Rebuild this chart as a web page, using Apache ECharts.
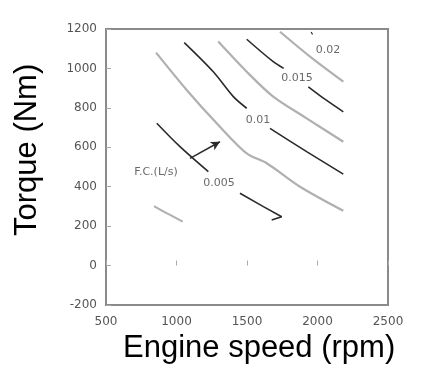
<!DOCTYPE html>
<html><head><meta charset="utf-8">
<script src="https://cdn.jsdelivr.net/npm/echarts@6/dist/echarts.min.js"></script>
<style>html,body{margin:0;padding:0;background:#fff}#c{width:424px;height:376px}</style>
</head><body><div id="c"></div>
<script>
// Contour lines (engine speed rpm, torque Nm)
const grayLine1 = [[840,302],[940,262],[1044,223]];
const fc005a = [[860,722],[1025,603],[1226,476]];
const fc005b = [[1450,367],[1616,299],[1746,248],[1675,231]];
const grayLine2 = [[855,1080],[1072,891],[1285,722],[1498,569],[1640,519],[1876,400],[2183,278]];
const fc010a = [[1055,1131],[1261,983],[1403,857],[1498,798]];
const fc010b = [[1663,696],[1923,578],[2183,464]];
const grayLine3 = [[1296,1136],[1498,983],[1686,857],[1923,747],[2183,628]];
const fc015a = [[1498,1148],[1686,1034],[1760,1000]];
const fc015b = [[1935,907],[2060,840],[2183,780]];
const grayLine4 = [[1734,1186],[1947,1060],[2183,933]];
const fc020 = [[1955,1185],[1965,1172]];
// Contour labels
const labelTexts = ['0.005','0.01','0.015','0.02','F.C.(L/s)'];
const labelPos = [[1301,419],[1578,738],[1855,951],[2074,1093],[855,475]];
const arrowFrom = [1096,544];
const arrowTo = [1308,628];
// Axes
const xMin = 500, xMax = 2500, xStep = 500;
const yMin = -200, yMax = 1200, yStep = 200;

const dark = '#2a2a2a', gray = '#b0b0b0';
function ln(data, color, w, sm){
  return {type:'line', data, smooth:sm===undefined?0.3:sm, showSymbol:false, symbol:'none',
    lineStyle:{color, width:w}, silent:true, z:3};
}
const chart = echarts.init(document.getElementById('c'));
chart.setOption({
  animation:false,
  grid:{left:106,right:36,top:29,bottom:71,show:true,borderColor:'#8a8a8a',borderWidth:2,backgroundColor:'#fff'},
  xAxis:{type:'value',min:xMin,max:xMax,interval:xStep,
    axisLine:{show:false},splitLine:{show:false},
    axisTick:{show:true,inside:true,length:5,lineStyle:{color:'#aaa'}},
    axisLabel:{color:'#555',fontFamily:'DejaVu Sans',fontSize:12,margin:11,formatter:v=>String(v)}},
  yAxis:{type:'value',min:yMin,max:yMax,interval:yStep,
    axisLine:{show:false},splitLine:{show:false},
    axisTick:{show:true,inside:true,length:5,lineStyle:{color:'#aaa'}},
    axisLabel:{color:'#555',fontFamily:'DejaVu Sans',fontSize:12,margin:9,formatter:v=>String(v)}},
  series:[
    ln(grayLine1,gray,2), ln(fc005a,dark,1.6), ln(fc005b,dark,1.6,0),
    ln(grayLine2,gray,2.2), ln(fc010a,dark,1.6), ln(fc010b,dark,1.6),
    ln(grayLine3,gray,2.2), ln(fc015a,dark,1.6), ln(fc015b,dark,1.6),
    ln(grayLine4,gray,2.2), ln(fc020,dark,1.2),
    {type:'scatter', symbolSize:0, silent:true, z:5,
      data: labelPos.map((p,i)=>({value:p, name:labelTexts[i]})),
      label:{show:true, position:'inside', formatter:p=>p.name, color:'#444',
        fontFamily:'DejaVu Sans', fontSize:11}},
    {type:'line', data:[], silent:true,
      markLine:{silent:true, symbol:['none','arrow'], symbolSize:[7,9],
        label:{show:false}, lineStyle:{color:dark,width:1.5,type:'solid'},
        data:[[{coord:arrowFrom},{coord:arrowTo}]]}}
  ],
  graphic:[
    {type:'text', left:258-135, top:333, style:{text:'Engine speed (rpm)', fill:'#000', font:'31px "Liberation Sans", Arial, sans-serif'}},
    {type:'text', rotation:Math.PI/2, x:12, y:236, style:{text:'Torque (Nm)', fill:'#000', font:'31px "Liberation Sans", Arial, sans-serif'}}
  ]
});
</script></body></html>
